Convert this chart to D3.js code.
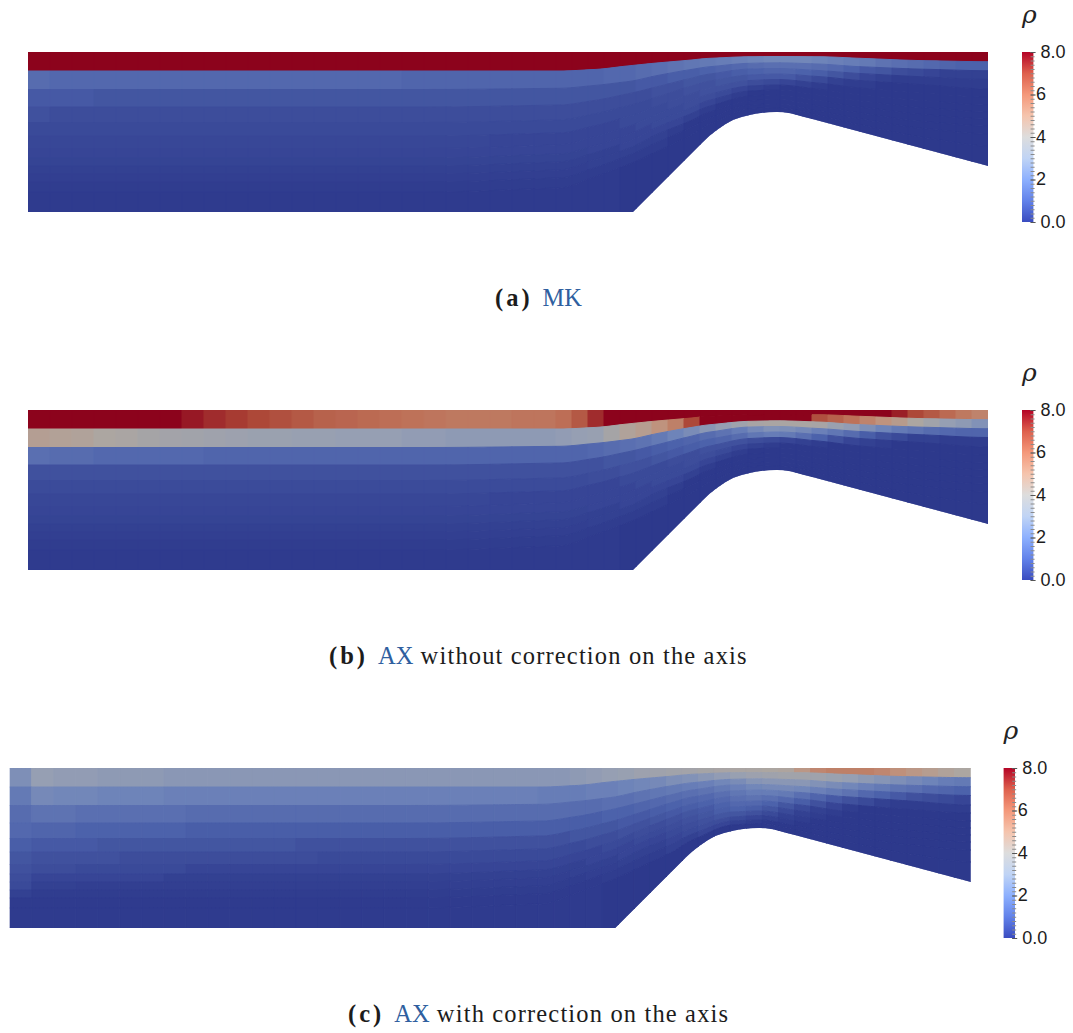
<!DOCTYPE html>
<html><head><meta charset="utf-8">
<script src="https://cdn.jsdelivr.net/npm/d3@7"></script>
<style>html,body{margin:0;background:#fff}svg{display:block}</style></head>
<body><svg id="c" width="1073" height="1033"></svg>
<script>
// --- colormap
const colorStops=[0,1,2,3,4,5,6,7,8];
const colorValues=["#3a4cc0","#6282ea","#8db0fe","#c0d4f5","#dddddd","#f5c4ad","#f4987a","#de604d","#b40426"];
// --- mesh: cell edges along the duct, boundary depths at stations, lower wall
const colEdges=[0,22,44,66,88,110,132,154,176,198,220,242,264,286,308,330,352,374,396,418,440,462,484,506,528,544,560,576,592,608,624,640,656,672,688,704,720,736,752,768,784,800,816,832,848,864,880,896,912,928,944,960];
const stations=[0,400,532,566,599,632,660,682,722,749,790,832,899,960];
const b1=[19,19,19,17.5,14,10.7,8.3,6.3,4.7,4.5,4.7,6.3,8.7,9.7];
const b2=[37.5,37.5,36.3,33.5,29.7,23,18,14.7,11.3,10.8,12,14.7,17.3,18.7];
const b3=[55,55,53,48.5,42,34,27,22,17,16.5,18.5,21.5,25,27.5];
const b4=[70.5,70.5,68,62,54,44,35,29,23,22,24.5,28.5,33,37];
const b5=[84,84,81,74,65,53,43,36,28.5,27.5,31,36,41.5,45];
const b6=[96.5,96.5,93,85,75,61,50,42,34,33,37,43,49,53];
const b7=[106,106,102,94,83,68,57,48,39,38,43,49,56,60];
const b8=[114,114,110,101,90,74,63,54,44,43,48.5,55,63,67];
const b9=[122,122,118,108,97,81,70,60,49,47.5,54,61,70,74];
const b10=[130,130,126,116,104,89,77,66,53,52,59,67,77,82];
const b11=[140,140,136,125,113,98,85,72,57,55.5,63,73,86,94];
const wallX=[0,605,675,682,689,697,705,713,722,728,735,742,749,755,762,768,775,780,785,960];
const wallD=[160,160,90,83.5,78,72.5,68,65.3,63,61.8,60.7,60.2,60,60.3,61.3,62.8,64.7,66,67.3,114];
// --- density, rows from top to wall, one value per cell
const aR1=[8,8,8,8,8,8,8,8,8,8,8,8,8,8,8,8,8,8,8,8,8,8,8,8, 8,8,8,8,8,8,8,8,8,8,8,8,8,8,8,8,8,8,8,8,8,8,8,8,8,8,8];
const aR2=[1.3,1.2,1.2,1.2,1.2,1.2,1.2,1.2,1.2,1.2,1.2,1.2,1.2,1.2,1.2,1.2,1.2,1.1,1.1,1.1,1.1,1.1,1.1,1.1, 1.1,1.1,1.1,1.2,1.2,1.3,1.4,1.5,1.6,1.7,1.8,1.9,2,2.1,2.1,2.1,2,1.9,1.8,1.7,1.5,1.4,1.3,1.2,1.1,1,1];
const aR3=[.8,.8,.8,.7,.7,.7,.7,.7,.7,.7,.7,.7,.7,.7,.7,.7,.7,.7,.7,.7,.7,.7,.7,.7, .7,.7,.7,.7,.7,.8,.8,.9,.9,1,1.1,1.2,1.3,1.4,1.4,1.4,1.3,1.2,1,.8,.7,.5,.4,.3,.2,.2,.2];
const aR4=[.6,.5,.5,.5,.5,.5,.5,.5,.5,.5,.5,.5,.5,.5,.5,.5,.5,.5,.5,.5,.5,.5,.5,.5, .5,.5,.5,.5,.5,.5,.6,.6,.7,.7,.8,.9,1,1.1,1.1,1,.9,.7,.5,.3,.2,.1,.1,.1,.1,.1,.1];
const aR5=[.4,.4,.4,.4,.4,.4,.4,.4,.4,.4,.4,.4,.4,.4,.4,.4,.4,.4,.4,.4,.4,.4,.4,.4, .4,.4,.4,.4,.4,.4,.5,.5,.6,.6,.7,.7,.8,.8,.8,.6,.4,.2,.1,.1,0,0,0,0,0,0,0];
const bR1=[8,8,8,8,8,8,8,7.7,7.4,7.2,7,6.8,6.6,6.4,6.3,6.2,6.1,6,5.9,5.8,5.8,5.8,5.9,5.9, 6.1,6.6,7.4,8,8,8,8,8,8,8,8,8,8,8,8,8,8,8,8,8,8,7.6,7,6.6,6.2,5.8,5.5];
const bR2=[4.4,4.3,4.2,4,3.9,3.7,3.6,3.5,3.4,3.3,3.2,3.2,3.1,3.1,3,3,3,2.9,2.9,2.8,2.8,2.8,2.8,2.8, 2.9,3,3.1,3.7,4.2,4.5,5,5.6,7,8,8,8,8,8,8,8,6.8,6.4,6,5.5,5,4.6,4,3.5,3,2.8,2.5];
const bR3=[1.4,1.3,1.3,1.2,1.2,1.2,1.2,1.2,1.1,1.1,1.1,1.1,1.1,1.1,1.1,1.1,1.1,1.1,1.1,1.1,1.1,1.1,1.1,1.1, 1.1,1.1,1.2,1.3,1.4,1.5,1.7,2,2.3,2.7,3,3.4,3.8,3.9,3.9,3.9,3.8,3.2,2.9,2.4,2,1.7,1.5,1.3,1.2,1.1,1.1];
const bR4=[.6,.6,.6,.6,.6,.6,.6,.6,.6,.6,.6,.6,.6,.6,.6,.6,.6,.6,.6,.6,.6,.6,.6,.6, .6,.6,.6,.7,.7,.8,.9,1,1.1,1.3,1.5,1.8,2.2,2.5,2.4,2.2,1.9,1.6,1.3,.9,.6,.4,.2,.2,.1,.1,.1];
const bR5=[.45,.45,.45,.45,.45,.45,.45,.45,.45,.45,.45,.45,.45,.45,.45,.45,.45,.45,.45,.45,.45,.45,.45,.45, .45,.45,.5,.5,.6,.6,.7,.8,.9,1,1.1,1.3,1.6,1.8,1.7,1.4,1,.6,.3,.2,.1,0,0,0,0,0,0];
const sR6=[.35,.35,.35,.35,.35,.35,.35,.35,.35,.35,.35,.35,.35,.35,.35,.35,.35,.35,.35,.35,.35,.3,.3,.3, .3,.3,.3,.3,.4,.4,.4,.5,.5,.6,.6,.6,.5,.4,.3,.2,.1,0,0,0,0,0,0,0,0,0,0];
const sR7=[.3,.3,.3,.3,.3,.3,.3,.3,.3,.3,.3,.3,.3,.3,.3,.3,.3,.3,.3,.3,.3,.3,.3,.3, .3,.3,.3,.3,.3,.4,.4,.4,.5,.5,.4,.3,.2,.1,0,0,0,0,0,0,0,0,0,0,0,0,0];
const sR8=[.25,.25,.25,.25,.25,.25,.25,.25,.25,.25,.25,.25,.25,.25,.25,.25,.25,.25,.25,.25,.25,.25,.25,.25, .25,.25,.3,.3,.3,.3,.4,.4,.4,.3,.2,.1,0,0,0,0,0,0,0,0,0,0,0,0,0,0,0];
const sR9=[.2,.2,.2,.2,.2,.2,.2,.2,.2,.2,.2,.2,.2,.2,.2,.2,.2,.2,.2,.2,.2,.2,.2,.2, .2,.2,.2,.2,.3,.3,.3,.3,.2,.1,0,0,0,0,0,0,0,0,0,0,0,0,0,0,0,0,0];
const sR10=[.15,.15,.15,.15,.15,.15,.15,.15,.15,.15,.15,.15,.15,.15,.15,.15,.15,.15,.15,.15,.15,.15,.15,.15, .15,.15,.2,.2,.2,.2,.2,.1,0,0,0,0,0,0,0,0,0,0,0,0,0,0,0,0,0,0,0];
const sR11=[.1,.1,.1,.1,.1,.1,.1,.1,.1,.1,.1,.1,.1,.1,.1,.1,.1,.1,.1,.1,.1,.1,.1,.1, .1,.1,.1,.1,.1,.1,.1,0,0,0,0,0,0,0,0,0,0,0,0,0,0,0,0,0,0,0,0];
const sR12=[.05,.05,.05,.05,.05,.05,.05,.05,.05,.05,.05,.05,.05,.05,.05,.05,.05,.05,.05,.05,.05,.05,.05,.05, .05,.05,.05,.05,0,0,0,0,0,0,0,0,0,0,0,0,0,0,0,0,0,0,0,0,0,0,0];
const cR1=[2.4,3,2.9,2.9,2.8,2.8,2.8,2.7,2.7,2.7,2.7,2.7,2.7,2.7,2.7,2.7,2.7,2.7,2.7,2.7,2.7,2.7,2.7,2.7, 2.7,2.7,2.8,2.9,3,3.1,3.3,3.4,3.5,3.6,3.7,3.8,3.9,3.9,4,4.1,4.8,5.4,5.6,5.6,5.6,5.4,5.1,4.8,4.5,4.2,4];
const cR2=[1.7,2.2,2.1,2.1,2,2,2,1.9,1.9,1.9,1.9,1.9,1.9,1.9,1.9,1.9,1.9,1.9,1.9,1.9,1.9,1.9,1.9,1.9, 1.8,1.8,1.8,1.9,1.9,2,2.1,2.2,2.4,2.5,2.7,2.9,3.1,3.3,3.4,3.5,3.5,3.4,3.2,3,2.8,2.6,2.4,2.2,2,1.8,1.7];
const cR3=[1.3,1.5,1.5,1.4,1.4,1.4,1.4,1.4,1.3,1.3,1.3,1.3,1.3,1.3,1.3,1.3,1.3,1.3,1.3,1.3,1.3,1.3,1.3,1.3, 1.3,1.3,1.3,1.3,1.4,1.4,1.5,1.6,1.7,1.8,1.9,2.1,2.3,2.6,2.7,2.7,2.7,2.5,2.3,2.1,1.9,1.7,1.5,1.4,1.2,1.1,1];
const cR4=[1.2,1.1,1.1,1,1,1,1,1,.9,.9,.9,.9,.9,.9,.9,.9,.9,.9,.9,.9,.9,.9,.9,.9, .9,.9,.9,.9,1,1,1.1,1.2,1.3,1.4,1.5,1.7,1.9,2.1,2.2,2.2,2.1,1.9,1.7,1.5,1.2,1,.8,.6,.5,.4,.3];
const cR5=[.9,.8,.8,.8,.7,.7,.7,.7,.7,.7,.7,.7,.7,.6,.6,.6,.6,.6,.6,.6,.6,.6,.6,.6, .6,.6,.7,.7,.7,.8,.8,.9,1,1.1,1.2,1.4,1.6,1.8,1.8,1.7,1.4,1.1,.8,.6,.4,.2,.1,.1,.1,.1,.1];
const cR6=[.7,.6,.6,.6,.6,.5,.5,.5,.5,.5,.5,.5,.5,.5,.4,.4,.4,.4,.4,.4,.4,.4,.4,.4, .4,.4,.4,.5,.5,.6,.6,.7,.8,.9,1,1.2,1.4,1.5,1.4,1.2,.9,.6,.3,.1,0,0,0,0,0,0,0];
const cR7=[.6,.5,.5,.4,.4,.4,.4,.4,.3,.3,.3,.3,.3,.3,.3,.3,.3,.3,.3,.3,.3,.3,.3,.3, .3,.3,.3,.3,.4,.4,.5,.5,.6,.7,.8,1,1.2,1.2,1,.7,.4,.2,.1,0,0,0,0,0,0,0,0];
const cR8=[.5,.3,.3,.3,.3,.3,.3,.2,.2,.2,.2,.2,.2,.2,.2,.2,.2,.2,.2,.2,.2,.2,.2,.2, .2,.2,.2,.3,.3,.3,.4,.4,.5,.6,.7,.9,1,.9,.7,.4,.2,.1,0,0,0,0,0,0,0,0,0];
const cR9=[.4,.2,.2,.15,.15,.15,.15,.15,.15,.15,.15,.15,.15,.15,.15,.15,.15,.15,.15,.15,.15,.15,.15,.15, .15,.15,.2,.2,.2,.3,.3,.3,.4,.5,.6,.7,.7,.6,.4,.2,.1,0,0,0,0,0,0,0,0,0,0];
const cR10=[.2,.1,.1,.1,.1,.1,.1,.1,.1,.1,.1,.1,.1,.1,.1,.1,.1,.1,.1,.1,.1,.1,.1,.1, .1,.1,.1,.15,.15,.2,.2,.2,.3,.4,.5,.5,.4,.3,.2,.1,0,0,0,0,0,0,0,0,0,0,0];
const cR11=[.05,.05,.05,.05,.05,.05,.05,.05,.05,.05,.05,.05,.05,.05,.05,.05,.05,.05,.05,.05,.05,.05,.05,.05, .05,.05,.05,.05,.1,.1,.1,.1,.2,.2,.3,.3,.2,.1,0,0,0,0,0,0,0,0,0,0,0,0,0];
const cR12=[.05,.05,.05,.05,.05,.05,.05,.05,.05,.05,.05,.05,.05,.05,.05,.05,.05,.05,.05,.05,.05,.05,.05,.05, .05,.05,.05,.05,0,0,0,0,0,0,0,0,0,0,0,0,0,0,0,0,0,0,0,0,0,0,0];
const rhoA=[aR1,aR2,aR3,aR4,aR5,sR6,sR7,sR8,sR9,sR10,sR11,sR12];
const rhoB=[bR1,bR2,bR3,bR4,bR5,sR6,sR7,sR8,sR9,sR10,sR11,sR12];
const rhoC=[cR1,cR2,cR3,cR4,cR5,cR6,cR7,cR8,cR9,cR10,cR11,cR12];
const captionTags=["(a)","(b)","(c)"];
const captionBlue=["MK","AX","AX"];
const captionRest=[""," without correction on the axis"," with correction on the axis"];
const majorTicks=[0,2,4,6,8];
const minorTicks=d3.range(0,8.01,0.2);
const tickLabel={0:"0.0",2:"2",4:"4",6:"6",8:"8.0"};

// --- layout
const layout=[
 {rho:rhoA,x0:28,x1:988,top:52,barX:1022,capX:495,capY:306,symY:23},
 {rho:rhoB,x0:28,x1:988,top:410,barX:1022,capX:329,capY:664,symY:381},
 {rho:rhoC,x0:9.7,x1:970.7,top:768,barX:1003.6,capX:348,capY:1022,symY:739}
];
const svg=d3.select("#c");
const cmap=d3.scaleLinear().domain(colorStops).range(colorValues).clamp(true);
const shade=v=>{const c=d3.rgb(cmap(v));return d3.rgb(c.r*.78,c.g*.75,c.b*.73).formatHex();};
// smooth reading of a boundary between its stations (monotone cubic)
const smooth=(xs,ys)=>{
  const n=xs.length,m=ys.map((_,i)=>{
    if(i===0||i===n-1) return 0;
    const d0=(ys[i]-ys[i-1])/(xs[i]-xs[i-1]),d1=(ys[i+1]-ys[i])/(xs[i+1]-xs[i]);
    return d0*d1<=0?0:(Math.sign(d0)*Math.min(Math.abs(d0),Math.abs(d1),Math.abs((ys[i+1]-ys[i-1])/(xs[i+1]-xs[i-1]))*1.5));
  });
  return x=>{
    const i=Math.min(n-2,Math.max(0,d3.bisectRight(xs,x)-1)),h=xs[i+1]-xs[i],t=(x-xs[i])/h;
    return (1+2*t)*(1-t)*(1-t)*ys[i]+t*(1-t)*(1-t)*h*m[i]+t*t*(3-2*t)*ys[i+1]+t*t*(t-1)*h*m[i+1];
  };
};
const bScales=[b1,b2,b3,b4,b5,b6,b7,b8,b9,b10,b11].map(b=>smooth(stations,b));
const wall=d3.scaleLinear().domain(wallX).range(wallD);
const nRows=12;
const lower=r=>r<nRows-1?bScales[r]:wall;
const upper=r=>r===0?(()=>0):bScales[r-1];

const defs=svg.append("defs");
const grad=defs.append("linearGradient").attr("id","ramp").attr("x1",0).attr("x2",0).attr("y1",1).attr("y2",0);
colorStops.forEach((s,i)=>grad.append("stop").attr("offset",s/8).attr("stop-color",colorValues[i]));

layout.forEach((p,pi)=>{
  const xS=d3.scaleLinear().domain([0,960]).range([p.x0,p.x1]);
  const yS=d3.scaleLinear().domain([0,160]).range([p.top,p.top+160]);
  const line=d3.line().x(d=>xS(d[0])).y(d=>yS(d[1]));
  defs.append("clipPath").attr("id","duct"+pi).append("path")
    .attr("d",line([[0,0],[960,0],...wallX.slice().reverse().map((x,i)=>[x,wallD[wallD.length-1-i]])])+"Z");
  const g=svg.append("g").attr("clip-path",`url(#duct${pi})`);
  const cells=[];
  p.rho.forEach((row,r)=>row.forEach((v,c)=>cells.push({r,c,v})));
  g.selectAll("path").data(cells).join("path")
    .attr("d",d=>{
      const a=colEdges[d.c],b=colEdges[d.c+1];
      const xs=[...new Set([a,...d3.range(a,b,4),...wallX.filter(x=>x>a&&x<b),b])].sort(d3.ascending);
      const up=upper(d.r),lo=lower(d.r);
      const pts=xs.map(x=>[x,up(x)]).concat(xs.slice().reverse().map(x=>[x,lo(x)]));
      return line(pts)+"Z";
    })
    .attr("fill",d=>shade(d.v)).attr("stroke",d=>shade(d.v)).attr("stroke-width",1);

  // colour bar
  const bar=d3.scaleLinear().domain([0,8]).range([p.top+170,p.top]);
  svg.append("rect").attr("x",p.barX).attr("y",p.top).attr("width",11.4).attr("height",170).attr("fill","url(#ramp)");
  const minor=svg.append("g").attr("transform",`translate(${p.barX+8.6},0)`)
    .call(d3.axisRight(bar).tickValues(minorTicks).tickSize(4).tickFormat(""));
  minor.select(".domain").remove();
  minor.selectAll("line").attr("stroke","#8a8a8a").attr("stroke-width",1);
  const major=svg.append("g").attr("transform",`translate(${p.barX+8.6},0)`)
    .call(d3.axisRight(bar).tickValues(majorTicks).tickSize(5).tickPadding(0).tickFormat(v=>tickLabel[v]));
  major.select(".domain").remove();
  major.selectAll("line").attr("stroke","#555").attr("stroke-width",1);
  major.selectAll("text").attr("font-family","Liberation Sans, sans-serif").attr("font-size",18).attr("fill","#1c1c1c")
    .attr("x",v=>(v===0||v===8)?10:5.5).attr("dy","0.3em");
  svg.append("text").attr("x",p.barX).attr("y",p.symY).attr("font-family","DejaVu Serif, serif").attr("font-style","italic")
    .attr("font-size",25).attr("fill","#222").text("ρ");

  // caption
  const t=svg.append("text").attr("x",p.capX).attr("y",p.capY).attr("font-family","Liberation Serif, serif").attr("font-size",24.5).attr("fill","#1c1c1c");
  t.append("tspan").attr("font-weight","bold").attr("letter-spacing",3).text(captionTags[pi]);
  t.append("tspan").attr("dx",10).attr("fill","#2f5f9f").text(captionBlue[pi]);
  if(captionRest[pi]) t.append("tspan").attr("letter-spacing",1.15).text(captionRest[pi]);
});
</script></body></html>
